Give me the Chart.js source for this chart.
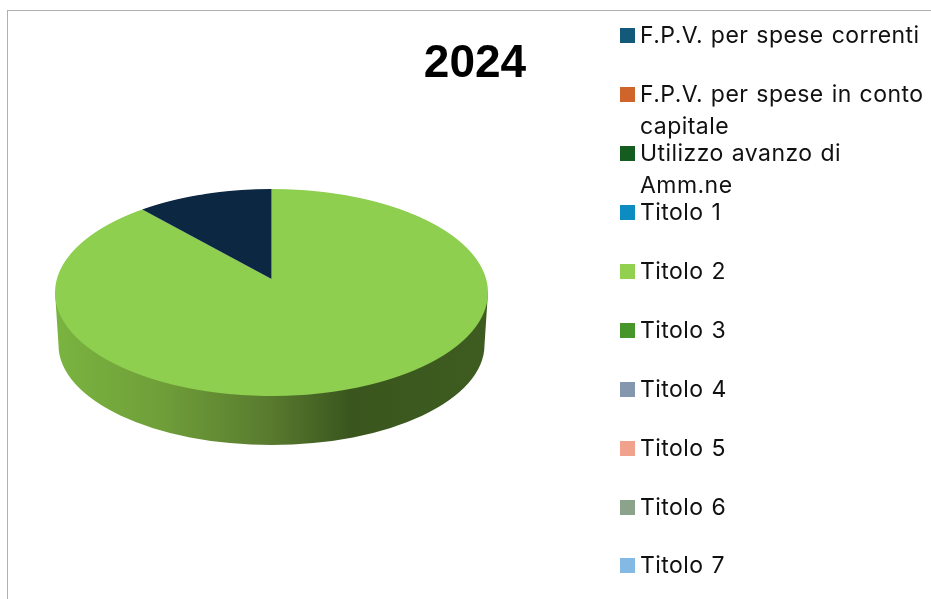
<!DOCTYPE html>
<html>
<head>
<meta charset="utf-8">
<script src="https://cdn.jsdelivr.net/npm/chart.js@4"></script>
<style>
  html, body { margin: 0; height: 100%; background: #fff; overflow: hidden; }
  #frame { position: absolute; left: 7px; top: 10px; width: 940px; height: 620px; border: 1px solid #b0b0b0; box-sizing: border-box; }
  #pie { position: absolute; left: 8px; top: 12px; }
  #legend { position: absolute; left: 0; top: 0; font-family: Inter, sans-serif; font-size: 23px; line-height: 32px; letter-spacing: 0.45px; word-spacing: 1px; color: #111; }
  .item { position: absolute; left: 620px; width: 306px; }
  .item i { position: absolute; left: 0; top: 0; width: 15px; height: 15px; }
  .item span { position: absolute; left: 20px; top: -9px; width: 288px; }
</style>
</head>
<body>
<div id="frame"></div>
<canvas id="pie" width="923" height="587"></canvas>
<div id="legend"></div>
<script>
const title = "2024";
const categories = [
  "F.P.V. per spese correnti",
  "F.P.V. per spese in conto capitale",
  "Utilizzo avanzo di Amm.ne",
  "Titolo 1", "Titolo 2", "Titolo 3", "Titolo 4", "Titolo 5", "Titolo 6", "Titolo 7",
  "" // the navy slice: its legend entry is cut off below the picture
];
const values = [0, 0, 0, 0, 88.5, 0, 0, 0, 0, 0, 11.5];
const legendColors = ["#12597a", "#d0652c", "#145c20", "#0c8cc0", "#92d050", "#47962a", "#8497ae", "#f0a28c", "#8aa38a", "#83b9e3", "#0c2742"];
const sliceColors = ["#12597a", "#d0652c", "#145c20", "#0c8cc0", "#8ecf50", "#47962a", "#8497ae", "#f0a28c", "#8aa38a", "#83b9e3", "#0c2742"];

// Legend: rows keep a fixed pitch, wrapped lines just run into the gap
const legend = document.getElementById("legend");
categories.forEach((name, i) => {
  if (!name) return;
  const item = document.createElement("div");
  item.className = "item";
  item.style.top = (28.3 + i * 58.9) + "px";
  item.innerHTML = `<i style="background:${legendColors[i]}"></i><span>${name}</span>`;
  legend.appendChild(item);
});

// Where the tilted pie lands on the canvas
const center = { x: 263.5, y: 267 };
const topDepth = 90, bottomDepth = 117, halfWidth = 214.6;
const k = (bottomDepth - topDepth) / (bottomDepth + topDepth);
const a = bottomDepth * (1 - k);

const tiltedPie = {
  id: "tiltedPie",
  beforeDatasetsDraw(chart) {
    const ctx = chart.ctx;
    const arcs = chart.getDatasetMeta(0).data;
    const arc = arcs[0];
    const R = arc.outerRadius;

    // Side wall
    const grad = ctx.createLinearGradient(47, 0, 480, 0);
    grad.addColorStop(0, "#7ab440");
    grad.addColorStop(0.25, "#6f9e39");
    grad.addColorStop(0.5, "#587a2e");
    grad.addColorStop(0.68, "#3a561e");
    grad.addColorStop(1, "#3e5c20");
    ctx.save();
    ctx.fillStyle = grad;
    ctx.beginPath();
    ctx.moveTo(47, 280);
    ctx.lineTo(50.5, 333);
    ctx.ellipse(center.x, 333, 213, 100, 0, Math.PI, 0, true);
    ctx.lineTo(480, 280);
    ctx.closePath();
    ctx.fill();
    ctx.restore();

    // Top face: draw the arcs row by row with a perspective scale
    for (let y = Math.floor(center.y - topDepth) - 1; y < center.y + bottomDepth + 1; y++) {
      const dy = y + 0.5 - center.y;
      const v = dy / (a + k * dy);
      const w = halfWidth / (1 - k * v);
      const h = a / ((1 - k * v) * (1 - k * v));
      const sx = w / R, sy = h / R;
      ctx.save();
      ctx.beginPath();
      ctx.rect(0, y, chart.width, 1);
      ctx.clip();
      ctx.setTransform(sx, 0, 0, sy, center.x - arc.x * sx, y + 0.5 - (arc.y + v * R) * sy);
      arcs.forEach(el => el.draw(ctx));
      ctx.restore();
    }
    return false;
  }
};

new Chart(document.getElementById("pie"), {
  type: "pie",
  data: {
    labels: categories,
    datasets: [{ data: values, backgroundColor: sliceColors, borderWidth: 0 }]
  },
  options: {
    responsive: false,
    animation: false,
    events: [],
    layout: { padding: { left: 11 } },
    plugins: {
      legend: { display: false },
      tooltip: { enabled: false },
      title: {
        display: true,
        text: title,
        color: "#000",
        font: { family: "'Liberation Sans', Arial, sans-serif", size: 46, weight: "bold" },
        padding: { top: 25, bottom: 10 }
      }
    }
  },
  plugins: [tiltedPie]
});
</script>
</body>
</html>
